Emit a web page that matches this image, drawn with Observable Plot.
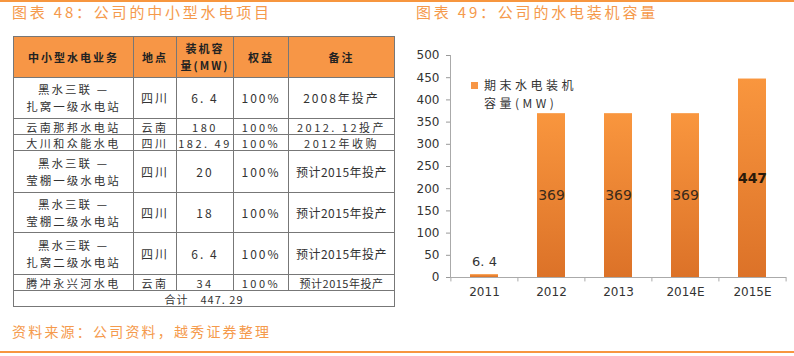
<!DOCTYPE html>
<html><head><meta charset="utf-8">
<script src="https://cdn.jsdelivr.net/npm/d3@7"></script>
<script src="https://cdn.jsdelivr.net/npm/@observablehq/plot@0.6"></script>
<style>
html,body{margin:0;padding:0;background:#fff;}
#page{position:relative;width:794px;height:356px;overflow:hidden;font-family:"Noto Sans CJK SC","Noto Sans",sans-serif;}
.hline{position:absolute;left:0;width:794px;height:2px;background:#F7963F;}
.title{position:absolute;top:2px;font-size:15px;letter-spacing:2.8px;color:#F59A4C;line-height:20px;white-space:nowrap;}
.caption{position:absolute;left:12px;top:321px;font-size:14px;letter-spacing:2.2px;color:#F59A4C;line-height:20px;white-space:nowrap;}
#tbl{position:absolute;left:13px;top:36px;width:381px;border-collapse:collapse;table-layout:fixed;font-size:12px;color:#333;}
#tbl td{border:1px solid #777;padding:0;text-align:center;vertical-align:middle;line-height:14px;letter-spacing:2px;white-space:nowrap;overflow:hidden;}
#tbl tr.short td{font-size:11px;line-height:14px;letter-spacing:2.5px;}
#tbl td.two{line-height:17px;font-size:11.5px;}
#tbl tr.head td{background:#F79646;font-weight:bold;color:#222;font-size:11px;line-height:17px;}
#chart{position:absolute;left:400px;top:40px;}
#legend{position:absolute;left:471px;top:76px;font-size:12px;color:#333;letter-spacing:3.5px;line-height:18px;}
#legend .sw{position:absolute;left:0;top:6px;width:7px;height:7px;background:#F79646;}
#legend .tx{margin-left:13px;}
</style></head>
<body>
<div id="page">
  <div class="hline" style="top:0px"></div>
  <div class="title" style="left:12px">图表 48：公司的中小型水电项目</div>
  <div class="title" style="left:416px">图表 49：公司的水电装机容量</div>
  <table id="tbl"></table>
  <div id="chart"></div>
  <div id="legend"><div class="sw"></div><div class="tx">期末水电装机<br>容量(MW)</div></div>
  <div class="caption">资料来源：公司资料，越秀证券整理</div>
  <div class="hline" style="top:351px"></div>
</div>
<script>
// ---- chart data ----
const years = ["2011", "2012", "2013", "2014E", "2015E"];
const capacity = [6.4, 369, 369, 369, 447];
const valueLabels = ["6. 4", "369", "369", "369", "447"];
const yTicks = [0, 50, 100, 150, 200, 250, 300, 350, 400, 450, 500];

// ---- table data ----
const tableHeader = ["中小型水电业务", "地点", "装机容\n量(MW)", "权益", "备注"];
const projectNames = ["黑水三联 —\n扎窝一级水电站", "云南那邦水电站", "大川和众能水电", "黑水三联 —\n莹棚一级水电站", "黑水三联 —\n莹棚二级水电站", "黑水三联 —\n扎窝二级水电站", "腾冲永兴河水电"];
const projectPlaces = ["四川", "云南", "四川", "四川", "四川", "四川", "云南"];
const projectCapacity = ["6. 4", "180", "182. 49", "20", "18", "6. 4", "34"];
const projectEquity = ["100%", "100%", "100%", "100%", "100%", "100%", "100%"];
const projectNotes = ["2008年投产", "2012. 12投产", "2012年收购", "预计2015年投产", "预计2015年投产", "预计2015年投产", "预计2015年投产"];
const tableTotal = "合计　447. 29";

// ---- build table ----
const headHeight = 41;
const rowHeights = [41, 16, 16, 42, 40, 42, 16];
const totalHeight = 16;
const colWidths = [120, 43, 57, 55, 106];
const tbl = d3.select("#tbl");
const cg = tbl.append("colgroup");
colWidths.forEach(w => cg.append("col").style("width", w + "px"));
const hr = tbl.append("tr").attr("class", "head").style("height", headHeight + "px");
tableHeader.forEach(h => hr.append("td").html(h.replace("\n", "<br>")));
projectNames.forEach((n, i) => {
  const tr = tbl.append("tr").style("height", rowHeights[i] + "px");
  if (rowHeights[i] < 20) tr.attr("class", "short");
  [n, projectPlaces[i], projectCapacity[i], projectEquity[i], projectNotes[i]].forEach((v, j) => {
    const td = tr.append("td").html(v.replace("\n", "<br>"));
    if (v.includes("\n")) td.attr("class", "two");
    if (j === 4 && v.startsWith("预计")) td.style("letter-spacing", "0.5px");
  });
});
tbl.append("tr").attr("class", "short").style("height", totalHeight + "px")
  .append("td").attr("colspan", 5).style("letter-spacing", "1px").text(tableTotal);

// ---- chart ----
const data = years.map((y, i) => ({year: y, value: capacity[i], label: valueLabels[i]}));
const insideMid = data.filter(d => d.value > 100 && d.value < 400);
const insideTop = data.filter(d => d.value >= 400);
const outside = data.filter(d => d.value <= 100);
const half = (394 - 50 - 8) / years.length / 2;

const chart = Plot.plot({
  width: 394,
  height: 270,
  marginLeft: 50,
  marginRight: 8,
  marginTop: 15,
  marginBottom: 33,
  style: {fontFamily: "DejaVu Sans, sans-serif", fontSize: "12px", color: "#333", background: "transparent"},
  x: {domain: years, paddingInner: 0.58, paddingOuter: 0.29, label: null},
  y: {domain: [0, 500], label: null},
  marks: [
    Plot.axisY({ticks: yTicks, tickSize: 4, tickPadding: 7, stroke: "#999", fill: "#333", fontSize: 12}),
    Plot.axisX({tickSize: 0, tickPadding: 10, fill: "#333", fontSize: 12}),
    Plot.frame({anchor: "left", stroke: "#aaa"}),
    Plot.barY(data, {x: "year", y: "value", fill: "url(#barGrad)"}),
    Plot.ruleY([0], {stroke: "#aaa"}),
    Plot.ruleX(years, {x: d => d, dx: -half, y1: 0, y2: -10, stroke: "#aaa"}),
    Plot.ruleX([years[years.length - 1]], {x: d => d, dx: half, y1: 0, y2: -10, stroke: "#aaa"}),
    Plot.text(insideMid, {x: "year", y: d => d.value / 2, text: "label", fill: "#3a2a1a", fontSize: 14}),
    Plot.text(insideTop, {x: "year", y: d => d.value / 2, text: "label", fill: "#2a1a0a", fontSize: 14, fontWeight: "bold"}),
    Plot.text(outside, {x: "year", y: "value", text: "label", dy: -13, fill: "#333", fontSize: 13})
  ]
});
const defs = d3.select(chart).insert("defs", ":first-child");
const g = defs.append("linearGradient").attr("id", "barGrad").attr("x1", 0).attr("y1", 0).attr("x2", 0).attr("y2", 1);
g.append("stop").attr("offset", "0%").attr("stop-color", "#F9963E");
g.append("stop").attr("offset", "100%").attr("stop-color", "#DC7228");
document.getElementById("chart").appendChild(chart);
</script>
</body></html>
